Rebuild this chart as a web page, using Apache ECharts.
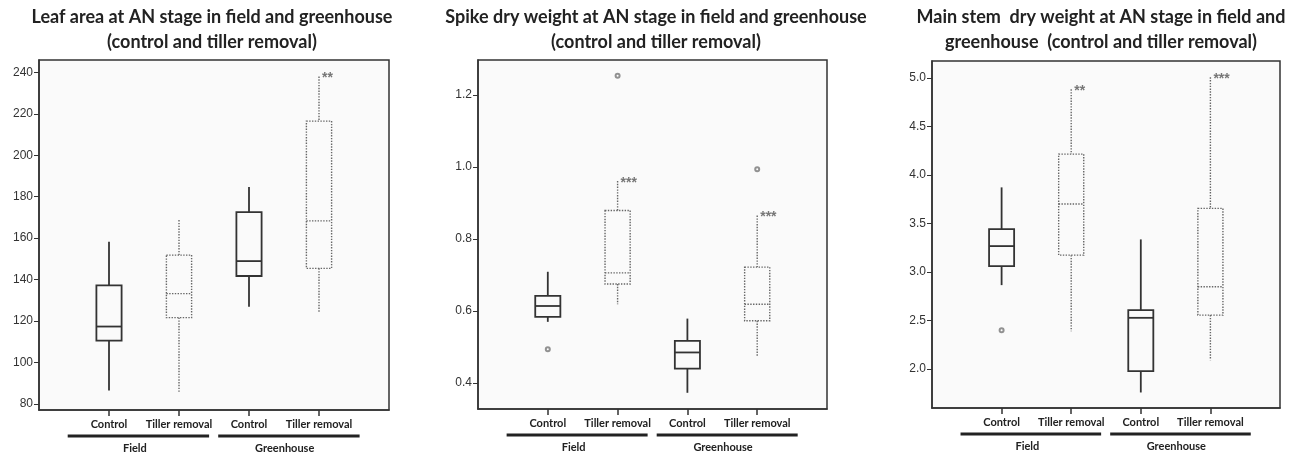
<!DOCTYPE html>
<html>
<head>
<meta charset="utf-8">
<script src="https://cdn.jsdelivr.net/npm/echarts@6/dist/echarts.min.js"></script>
<style>
html, body { margin: 0; padding: 0; background: #fff; }
#main { width: 1297px; height: 457px; }
</style>
</head>
<body>
<div id="main"></div>
<script>
var treatments = ['Control', 'Tiller removal', 'Control', 'Tiller removal'];
var groups = ['Field', 'Greenhouse'];

// each row: [min, Q1, median, Q3, max]
var leafArea = [
  [86.4, 110.5, 117.3, 137.2, 158.2],
  [85.5, 121.6, 133.2, 151.8, 168.7],
  [126.9, 141.7, 148.9, 172.5, 184.7],
  [124.5, 145.4, 168.3, 216.5, 238.0]
];
var spikeWeight = [
  [0.570, 0.584, 0.614, 0.642, 0.709],
  [0.619, 0.675, 0.706, 0.879, 0.961],
  [0.373, 0.440, 0.485, 0.517, 0.579],
  [0.473, 0.573, 0.619, 0.722, 0.865]
];
var stemWeight = [
  [2.866, 3.062, 3.268, 3.443, 3.873],
  [2.392, 3.175, 3.701, 4.216, 4.883],
  [1.760, 1.979, 2.529, 2.608, 3.337],
  [2.093, 2.557, 2.849, 3.657, 5.007]
];

// outliers: [treatment index, value]
var leafOutliers = [];
var spikeOutliers = [[0, 0.494], [1, 1.253], [3, 0.994]];
var stemOutliers = [[0, 2.402]];

var leafStars = ['', '', '', '**'];
var spikeStars = ['', '***', '', '***'];
var stemStars = ['', '**', '', '***'];

var leafTicks = [80, 100, 120, 140, 160, 180, 200, 220, 240];
var spikeTicks = [0.4, 0.6, 0.8, 1.0, 1.2];
var stemTicks = [2.0, 2.5, 3.0, 3.5, 4.0, 4.5, 5.0];

var panels = [
  { title: 'Leaf area at AN stage in field and greenhouse\n(control and tiller removal)',
    titleX: 212, boxes: leafArea, outliers: leafOutliers, stars: leafStars, ticks: leafTicks,
    min: 77, max: 246, digits: 0, grid: { left: 39, top: 60, width: 350, height: 350 } },
  { title: 'Spike dry weight at AN stage in field and greenhouse\n(control and tiller removal)',
    titleX: 656, boxes: spikeWeight, outliers: spikeOutliers, stars: spikeStars, ticks: spikeTicks,
    min: 0.328, max: 1.297, digits: 1, grid: { left: 478, top: 60, width: 349, height: 349 } },
  { title: 'Main stem  dry weight at AN stage in field and\ngreenhouse  (control and tiller removal)',
    titleX: 1101, boxes: stemWeight, outliers: stemOutliers, stars: stemStars, ticks: stemTicks,
    min: 1.6, max: 5.175, digits: 1, grid: { left: 932, top: 61, width: 348, height: 347 } }
];

var groupSpans = [[0.41, 2.43], [2.56, 4.58]];
var groupLabelAt = [1.37, 3.51];
var catPos = [1, 2, 3, 4];

function renderBox(params, api) {
  var x = api.value(0);
  var lo = api.coord([x, api.value(1)]);
  var q1 = api.coord([x, api.value(2)]);
  var md = api.coord([x, api.value(3)]);
  var q3 = api.coord([x, api.value(4)]);
  var hi = api.coord([x, api.value(5)]);
  var dotted = api.value(6) === 1;
  var w = api.size([0.36, 0])[0];
  var cx = lo[0];
  var st = {
    stroke: dotted ? '#666' : '#333',
    lineWidth: dotted ? 1.4 : 1.8,
    lineDash: dotted ? [1.4, 1.4] : null,
    fill: null
  };
  return {
    type: 'group',
    children: [
      { type: 'line', shape: { x1: cx, y1: hi[1], x2: cx, y2: q3[1] }, style: st },
      { type: 'line', shape: { x1: cx, y1: q1[1], x2: cx, y2: lo[1] }, style: st },
      { type: 'rect', shape: { x: cx - w / 2, y: q3[1], width: w, height: q1[1] - q3[1] }, style: st },
      { type: 'line', shape: { x1: cx - w / 2, y1: md[1], x2: cx + w / 2, y2: md[1] }, style: st }
    ]
  };
}

var option = {
  backgroundColor: '#fff',
  animation: false,
  title: [], grid: [], xAxis: [], yAxis: [], series: []
};

panels.forEach(function (p, i) {
  option.title.push({
    text: p.title, left: p.titleX, top: 5, textAlign: 'center', padding: 0,
    textStyle: { fontFamily: 'Lato', fontWeight: 'bold', fontSize: 18, lineHeight: 25, color: '#222' }
  });
  option.grid.push({
    left: p.grid.left, top: p.grid.top, width: p.grid.width, height: p.grid.height,
    show: true, backgroundColor: '#fafafa', borderColor: '#333', borderWidth: 1.5
  });
  option.xAxis.push({
    gridIndex: i, type: 'value', min: 0, max: 5,
    axisLine: { show: true, lineStyle: { color: '#333', width: 1.5 } },
    axisTick: { show: true, length: 6, customValues: catPos, lineStyle: { color: '#333', width: 1.5 } },
    axisLabel: {
      customValues: catPos, margin: 9,
      fontFamily: 'Lato', fontWeight: 'bold', fontSize: 11, color: '#222',
      formatter: function (v) { return treatments[Math.round(v) - 1]; }
    },
    splitLine: { show: false }
  });
  option.yAxis.push({
    gridIndex: i, type: 'value', min: p.min, max: p.max,
    axisLine: { show: true, lineStyle: { color: '#333', width: 1.5 } },
    axisTick: { show: true, length: 5, customValues: p.ticks, lineStyle: { color: '#333' } },
    axisLabel: {
      customValues: p.ticks, margin: 6,
      fontFamily: 'Liberation Sans', fontSize: 12, color: '#333',
      formatter: function (v) { return v.toFixed(p.digits); }
    },
    splitLine: { show: false }
  });
  option.series.push({
    type: 'custom', xAxisIndex: i, yAxisIndex: i,
    renderItem: renderBox,
    data: p.boxes.map(function (b, k) { return [k + 1].concat(b).concat([k % 2]); }),
    silent: true
  });
  option.series.push({
    type: 'scatter', xAxisIndex: i, yAxisIndex: i,
    symbol: 'emptyCircle', symbolSize: 4,
    itemStyle: { color: '#777', borderWidth: 0.8 },
    data: p.outliers.map(function (o) { return [o[0] + 1, o[1]]; }),
    silent: true
  });
  option.series.push({
    type: 'scatter', xAxisIndex: i, yAxisIndex: i,
    symbolSize: 0,
    label: {
      show: true, position: 'right', distance: 3, offset: [0, 2],
      fontFamily: 'Liberation Sans', fontWeight: 'bold', fontSize: 14, color: '#555',
      formatter: function (d) { return p.stars[d.dataIndex]; }
    },
    data: p.boxes.map(function (b, k) { return [k + 1, b[4]]; }),
    silent: true
  });
});

var chart = echarts.init(document.getElementById('main'), null, { renderer: 'canvas' });
chart.setOption(option);

// group brackets under the category labels, placed through the axes
var graphics = [];
panels.forEach(function (p, i) {
  var finder = { xAxisIndex: i, yAxisIndex: i };
  groupSpans.forEach(function (s, g) {
    var a = chart.convertToPixel(finder, [s[0], p.min]);
    var b = chart.convertToPixel(finder, [s[1], p.min]);
    var c = chart.convertToPixel(finder, [groupLabelAt[g], p.min]);
    graphics.push({
      type: 'line', shape: { x1: a[0], y1: a[1] + 26, x2: b[0], y2: b[1] + 26 },
      style: { stroke: '#222', lineWidth: 3 }
    });
    graphics.push({
      type: 'text', x: c[0], y: c[1] + 38,
      style: { text: groups[g], align: 'center', verticalAlign: 'middle',
        font: 'bold 11px Lato', fill: '#222' }
    });
  });
});
chart.setOption({ graphic: graphics });
</script>
</body>
</html>
